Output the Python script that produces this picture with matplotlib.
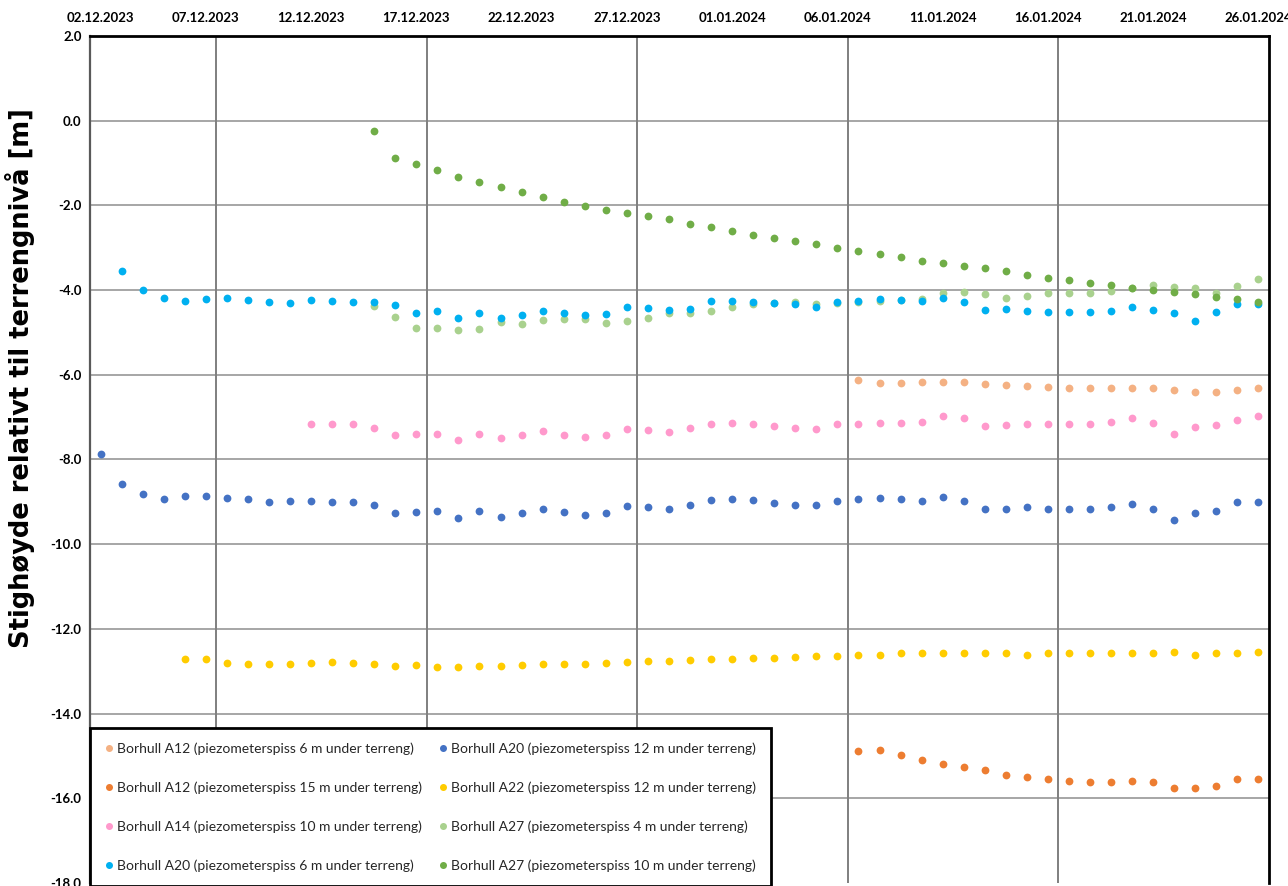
import datetime as dt

import matplotlib.pyplot as plt
import numpy as np

# day 0 = 02.12.2023, one reading per day
start = dt.date(2023, 12, 2)

a12_6_days = np.arange(36, 56)
a12_6 = [-6.13, -6.20, -6.20, -6.18, -6.17, -6.18, -6.22, -6.25, -6.26, -6.28,
         -6.31, -6.32, -6.32, -6.32, -6.31, -6.35, -6.40, -6.40, -6.36, -6.32]

a12_15_days = np.arange(36, 56)
a12_15 = [-14.88, -14.86, -14.98, -15.10, -15.18, -15.27, -15.33, -15.45, -15.49, -15.55,
          -15.59, -15.62, -15.62, -15.58, -15.62, -15.75, -15.75, -15.70, -15.54, -15.54]

a14_10_days = np.arange(10, 56)
a14_10 = [-7.15, -7.15, -7.17, -7.25, -7.43, -7.40, -7.39, -7.54, -7.39, -7.50,
          -7.43, -7.32, -7.43, -7.47, -7.43, -7.29, -7.31, -7.35, -7.25, -7.15,
          -7.13, -7.15, -7.21, -7.25, -7.27, -7.17, -7.15, -7.13, -7.13, -7.11,
          -6.97, -7.03, -7.21, -7.19, -7.15, -7.17, -7.17, -7.15, -7.11, -7.01,
          -7.13, -7.39, -7.23, -7.19, -7.07, -6.97]

a20_6_days = np.arange(1, 56)
a20_6 = [-3.56, -3.99, -4.18, -4.25, -4.21, -4.19, -4.23, -4.27, -4.31, -4.23,
         -4.25, -4.29, -4.29, -4.36, -4.53, -4.49, -4.67, -4.55, -4.65, -4.58,
         -4.49, -4.53, -4.58, -4.57, -4.40, -4.43, -4.47, -4.44, -4.26, -4.25,
         -4.27, -4.31, -4.34, -4.39, -4.27, -4.25, -4.21, -4.24, -4.26, -4.18,
         -4.29, -4.47, -4.44, -4.49, -4.52, -4.52, -4.52, -4.49, -4.39, -4.48,
         -4.55, -4.74, -4.52, -4.33, -4.33]

a20_12_days = np.arange(0, 56)
a20_12 = [-7.87, -8.58, -8.82, -8.94, -8.87, -8.86, -8.90, -8.94, -9.00, -8.98,
          -8.98, -9.00, -9.00, -9.08, -9.26, -9.24, -9.21, -9.38, -9.22, -9.35,
          -9.26, -9.16, -9.24, -9.30, -9.26, -9.10, -9.12, -9.16, -9.08, -8.96,
          -8.94, -8.96, -9.02, -9.08, -9.08, -8.98, -8.94, -8.92, -8.94, -8.98,
          -8.88, -8.98, -9.16, -9.18, -9.13, -9.16, -9.18, -9.18, -9.13, -9.06,
          -9.18, -9.43, -9.26, -9.22, -9.00, -9.00]

a22_12_days = np.arange(4, 56)
a22_12 = [-12.72, -12.72, -12.81, -12.83, -12.84, -12.83, -12.81, -12.79, -12.80, -12.84,
          -12.88, -12.86, -12.90, -12.90, -12.88, -12.88, -12.86, -12.84, -12.84, -12.83,
          -12.80, -12.79, -12.76, -12.75, -12.73, -12.72, -12.70, -12.68, -12.68, -12.66,
          -12.65, -12.65, -12.61, -12.61, -12.58, -12.56, -12.58, -12.56, -12.58, -12.58,
          -12.61, -12.58, -12.58, -12.58, -12.57, -12.58, -12.56, -12.54, -12.61, -12.58,
          -12.58, -12.54]

a27_4_days = np.arange(13, 56)
a27_4 = [-4.37, -4.63, -4.90, -4.89, -4.95, -4.92, -4.76, -4.80, -4.71, -4.68,
         -4.69, -4.77, -4.74, -4.66, -4.55, -4.55, -4.49, -4.39, -4.33, -4.31,
         -4.29, -4.32, -4.30, -4.28, -4.25, -4.24, -4.22, -4.08, -4.04, -4.10,
         -4.18, -4.14, -4.08, -4.08, -4.07, -4.03, -3.94, -3.89, -3.92, -3.94,
         -4.08, -3.90, -3.73]

a27_10_days = np.arange(13, 56)
a27_10 = [-0.24, -0.89, -1.02, -1.16, -1.33, -1.45, -1.57, -1.69, -1.79, -1.92,
          -2.01, -2.11, -2.19, -2.26, -2.33, -2.43, -2.51, -2.60, -2.70, -2.76,
          -2.84, -2.92, -3.00, -3.07, -3.14, -3.22, -3.32, -3.36, -3.44, -3.48,
          -3.56, -3.64, -3.71, -3.76, -3.83, -3.88, -3.96, -3.99, -4.05, -4.10,
          -4.17, -4.22, -4.28]

series = [
    (a12_6_days, a12_6, '#F4B183', 'Borhull A12 (piezometerspiss 6 m under terreng)'),
    (a12_15_days, a12_15, '#ED7D31', 'Borhull A12 (piezometerspiss 15 m under terreng)'),
    (a14_10_days, a14_10, '#FF99CC', 'Borhull A14 (piezometerspiss 10 m under terreng)'),
    (a20_6_days, a20_6, '#00B0F0', 'Borhull A20 (piezometerspiss 6 m under terreng)'),
    (a20_12_days, a20_12, '#4472C4', 'Borhull A20 (piezometerspiss 12 m under terreng)'),
    (a22_12_days, a22_12, '#FFCC00', 'Borhull A22 (piezometerspiss 12 m under terreng)'),
    (a27_4_days, a27_4, '#A9D18E', 'Borhull A27 (piezometerspiss 4 m under terreng)'),
    (a27_10_days, a27_10, '#70AD47', 'Borhull A27 (piezometerspiss 10 m under terreng)'),
]

tick_days = np.arange(0, 56, 5)
tick_labels = [(start + dt.timedelta(days=int(d))).strftime('%d.%m.%Y') for d in tick_days]

plt.rcParams['font.family'] = ['Lato', 'DejaVu Sans']

fig = plt.figure(figsize=(12.88, 8.86), dpi=100)
ax = fig.add_axes([90 / 1288, 3 / 886, 1179 / 1288, 847 / 886])

# light green first so the cyan series sits on top of it, dark green drawn last
order = [0, 1, 2, 6, 3, 4, 5, 7]
handles = {}
for i in order:
    days, vals, col, lab = series[i]
    h, = ax.plot(days, vals, linestyle='none', marker='o', ms=5.6,
                 mec='none', color=col, label=lab, zorder=3)
    handles[i] = h

ax.set_xlim(-0.5, 55.5)
ax.set_ylim(-18, 2)

ax.set_yticks(np.arange(-18, 2.1, 2))
ax.set_yticklabels(['%.1f' % v for v in np.arange(-18, 2.1, 2)],
                   fontsize=9.5, fontweight='bold')

ax.set_xticks(tick_days)
ax.set_xticklabels(tick_labels, fontsize=9.5, fontweight='bold')
ax.xaxis.tick_top()
ax.tick_params(axis='both', length=0, pad=6)
ax.tick_params(axis='x', pad=9)

# grid: horizontal every 2 m, vertical every 10 days between readings
for v in np.arange(-16, 2, 2):
    ax.axhline(v, color='#A6A6A6', lw=1.4, zorder=1)
for d in np.arange(5.5, 55, 10):
    ax.axvline(d, color='#7F7F7F', lw=1.4, zorder=1)

for side in ['top', 'right']:
    ax.spines[side].set_linewidth(2.0)
    ax.spines[side].set_color('black')
ax.spines['left'].set_linewidth(1.6)
ax.spines['left'].set_color('#595959')
ax.spines['bottom'].set_visible(False)

fig.text(20 / 1288, 1 - 378 / 886, 'Stighøyde relativt til terrengnivå [m]',
         rotation=90, ha='center', va='center', fontsize=18.5, fontweight='bold',
         family=['DejaVu Sans'])

leg = ax.legend([handles[i] for i in range(8)], [s[3] for s in series],
                ncol=2, loc='lower left', bbox_to_anchor=(0.0, -0.004),
                borderaxespad=0, fontsize=10, frameon=True, fancybox=False,
                framealpha=1, edgecolor='black', handlelength=0.6,
                handletextpad=0.3, columnspacing=1.2, labelspacing=1.9,
                borderpad=1.05, markerscale=0.9)
leg.get_frame().set_linewidth(2.0)
leg.set_zorder(5)
for t in leg.get_texts():
    t.set_color('#262626')

fig.savefig('out.png', dpi=100)
